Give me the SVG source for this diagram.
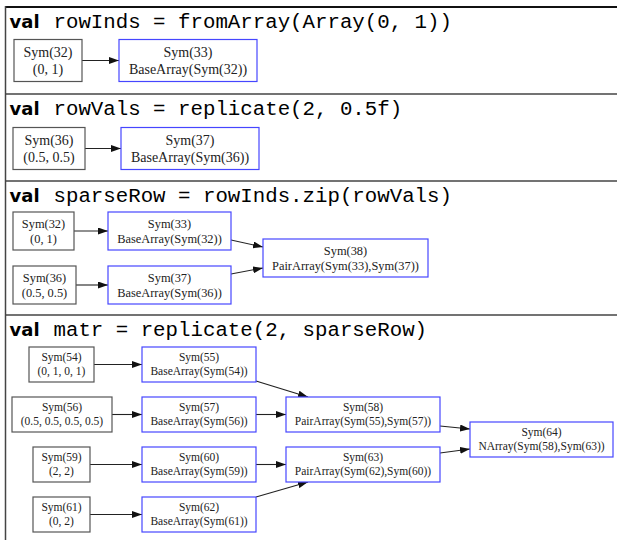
<svg xmlns="http://www.w3.org/2000/svg" width="617" height="540" viewBox="0 0 617 540">
<defs>
<marker id="ah" viewBox="0 0 10 7" refX="10" refY="3.5" markerWidth="10" markerHeight="7" markerUnits="userSpaceOnUse" orient="auto">
<path d="M0,0 L10,3.5 L0,7 z" fill="#111"/>
</marker>
<style>
.n rect{fill:#fff;stroke:#555;stroke-width:1.2}
.b rect{fill:#fff;stroke:#4646ff;stroke-width:1.2}
text.l{font-family:'Liberation Serif','Times New Roman','DejaVu Serif',serif;fill:#222;text-anchor:middle}
.f1{font-size:14px}
.f3{font-size:12.4px}
.f4{font-size:11.5px}
.kw{font-family:'DejaVu Sans',sans-serif;font-weight:bold;font-size:18px;fill:#000}
.code{font-family:'Liberation Mono','Courier New',monospace;font-size:20.75px;fill:#000}
.e line{stroke:#222;stroke-width:1.1;marker-end:url(#ah)}
.frame{stroke:#444;stroke-width:1.5}
</style>
</defs>
<rect width="617" height="540" fill="#fff"/>
<g id="frame">
<line x1="5" y1="7" x2="617" y2="7" stroke="#111" stroke-width="2"/>
<line class="frame" x1="5" y1="94" x2="617" y2="94"/>
<line class="frame" x1="5" y1="181" x2="617" y2="181"/>
<line class="frame" x1="5" y1="315" x2="617" y2="315"/>
<line class="frame" x1="5.5" y1="6" x2="5.5" y2="540"/>
</g>
<g id="headers">
<text y="28"><tspan class="kw" x="9.5">val</tspan><tspan class="code" x="53.5">rowInds = fromArray(Array(0, 1))</tspan></text>
<text y="115"><tspan class="kw" x="9.5">val</tspan><tspan class="code" x="53.5">rowVals = replicate(2, 0.5f)</tspan></text>
<text y="202"><tspan class="kw" x="9.5">val</tspan><tspan class="code" x="53.5">sparseRow = rowInds.zip(rowVals)</tspan></text>
<text y="336"><tspan class="kw" x="9.5">val</tspan><tspan class="code" x="53.5">matr = replicate(2, sparseRow)</tspan></text>
</g>
<g id="connectors" class="e">
<line x1="82" y1="60.5" x2="119" y2="60.5"/>
<line x1="85" y1="148.5" x2="121" y2="148.5"/>
<line x1="74" y1="231" x2="108" y2="231"/>
<line x1="76" y1="285" x2="108" y2="285"/>
<line x1="231" y1="240" x2="263" y2="247"/>
<line x1="231" y1="274" x2="263" y2="268"/>
<line x1="94" y1="364.5" x2="142" y2="364.5"/>
<line x1="112" y1="414.5" x2="142" y2="414.5"/>
<line x1="90" y1="464.5" x2="142" y2="464.5"/>
<line x1="90" y1="514.5" x2="142" y2="514.5"/>
<line x1="256" y1="381" x2="308" y2="397"/>
<line x1="256" y1="414.5" x2="286" y2="414.5"/>
<line x1="256" y1="464.5" x2="286" y2="464.5"/>
<line x1="256" y1="497" x2="308" y2="482"/>
<line x1="440" y1="426" x2="470" y2="429"/>
<line x1="440" y1="453" x2="470" y2="449"/>
</g>
<g id="s1_sym32" class="n"><rect x="14" y="39.5" width="68" height="42"/><text class="l f1" x="48" y="56.7">Sym(32)</text><text class="l f1" x="48" y="73.5">(0, 1)</text></g>
<g id="s1_sym33" class="b"><rect x="119" y="39.5" width="138" height="42"/><text class="l f1" x="188" y="56.7">Sym(33)</text><text class="l f1" x="188" y="73.5">BaseArray(Sym(32))</text></g>
<g id="s2_sym36" class="n"><rect x="13" y="127.5" width="72" height="42"/><text class="l f1" x="49" y="144.7">Sym(36)</text><text class="l f1" x="49" y="161.5">(0.5, 0.5)</text></g>
<g id="s2_sym37" class="b"><rect x="121" y="127.5" width="138" height="42"/><text class="l f1" x="190" y="144.7">Sym(37)</text><text class="l f1" x="190" y="161.5">BaseArray(Sym(36))</text></g>
<g id="s3_sym32" class="n"><rect x="13" y="212" width="61" height="38"/><text class="l f3" x="43.5" y="227.7">Sym(32)</text><text class="l f3" x="43.5" y="242.5">(0, 1)</text></g>
<g id="s3_sym33" class="b"><rect x="108" y="212" width="123" height="38"/><text class="l f3" x="169.5" y="227.7">Sym(33)</text><text class="l f3" x="169.5" y="242.5">BaseArray(Sym(32))</text></g>
<g id="s3_sym36" class="n"><rect x="13" y="266" width="63" height="38"/><text class="l f3" x="44.5" y="281.7">Sym(36)</text><text class="l f3" x="44.5" y="296.5">(0.5, 0.5)</text></g>
<g id="s3_sym37" class="b"><rect x="108" y="266" width="123" height="38"/><text class="l f3" x="169.5" y="281.7">Sym(37)</text><text class="l f3" x="169.5" y="296.5">BaseArray(Sym(36))</text></g>
<g id="s3_sym38" class="b"><rect x="263" y="239" width="165" height="38"/><text class="l f3" x="345.5" y="254.7">Sym(38)</text><text class="l f3" x="345.5" y="269.5">PairArray(Sym(33),Sym(37))</text></g>
<g id="s4_sym54" class="n"><rect x="29" y="347" width="65" height="35"/><text class="l f4" x="61.5" y="361.4">Sym(54)</text><text class="l f4" x="61.5" y="375.2">(0, 1, 0, 1)</text></g>
<g id="s4_sym55" class="b"><rect x="142" y="347" width="114" height="35"/><text class="l f4" x="199" y="361.4">Sym(55)</text><text class="l f4" x="199" y="375.2">BaseArray(Sym(54))</text></g>
<g id="s4_sym56" class="n"><rect x="12" y="397" width="100" height="35"/><text class="l f4" x="62" y="411.4">Sym(56)</text><text class="l f4" x="62" y="425.2">(0.5, 0.5, 0.5, 0.5)</text></g>
<g id="s4_sym57" class="b"><rect x="142" y="397" width="114" height="35"/><text class="l f4" x="199" y="411.4">Sym(57)</text><text class="l f4" x="199" y="425.2">BaseArray(Sym(56))</text></g>
<g id="s4_sym59" class="n"><rect x="33" y="447" width="57" height="35"/><text class="l f4" x="61.5" y="461.4">Sym(59)</text><text class="l f4" x="61.5" y="475.2">(2, 2)</text></g>
<g id="s4_sym60" class="b"><rect x="142" y="447" width="114" height="35"/><text class="l f4" x="199" y="461.4">Sym(60)</text><text class="l f4" x="199" y="475.2">BaseArray(Sym(59))</text></g>
<g id="s4_sym61" class="n"><rect x="33" y="497" width="57" height="35"/><text class="l f4" x="61.5" y="511.4">Sym(61)</text><text class="l f4" x="61.5" y="525.2">(0, 2)</text></g>
<g id="s4_sym62" class="b"><rect x="142" y="497" width="114" height="35"/><text class="l f4" x="199" y="511.4">Sym(62)</text><text class="l f4" x="199" y="525.2">BaseArray(Sym(61))</text></g>
<g id="s4_sym58" class="b"><rect x="286" y="397" width="154" height="35"/><text class="l f4" x="363" y="411.4">Sym(58)</text><text class="l f4" x="363" y="425.2">PairArray(Sym(55),Sym(57))</text></g>
<g id="s4_sym63" class="b"><rect x="286" y="447" width="154" height="35"/><text class="l f4" x="363" y="461.4">Sym(63)</text><text class="l f4" x="363" y="475.2">PairArray(Sym(62),Sym(60))</text></g>
<g id="s4_sym64" class="b"><rect x="470" y="422" width="143" height="35"/><text class="l f4" x="541.5" y="436.4">Sym(64)</text><text class="l f4" x="541.5" y="450.2">NArray(Sym(58),Sym(63))</text></g>
</svg>
